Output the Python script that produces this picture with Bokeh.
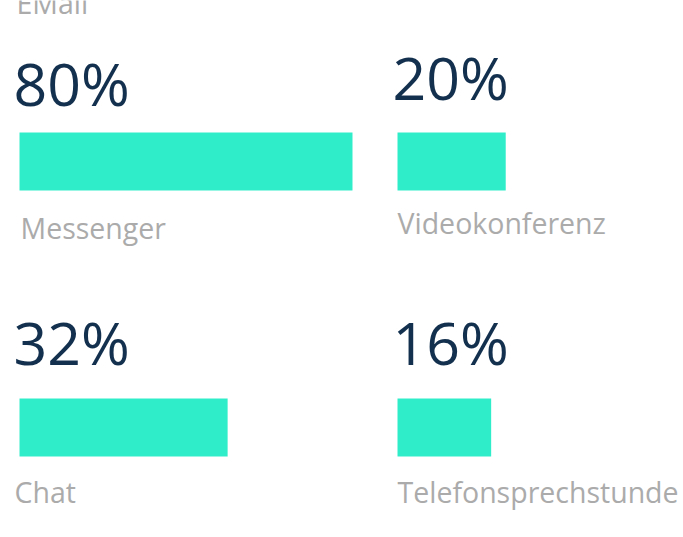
from bokeh.plotting import figure
from bokeh.models import Range1d, ColumnDataSource
from bokeh.core.properties import value
from bokeh.embed import file_html
from bokeh.resources import INLINE

# ---- data ----
categories = ["Messenger", "Videokonferenz", "Chat", "Telefonsprechstunde"]
percent_labels = ["80%", "20%", "32%", "16%"]
bar_values = [80, 26, 50, 22.5]          # bar lengths as drawn (relative units)
hidden_category = "EMail"                 # tile scrolled off above

# ---- layout (pixel space) ----
W, H = 683, 537
col_bar_x = [19, 397]
col_pct_x = [13, 392]
label_x = [20, 397, 14, 397]
pct_baseline = [108, 102, 367, 367]
bar_top = [132, 132, 398, 398]
bar_h = 58
label_baseline = [240, 235, 504, 504]
px_per_unit = 333 / 80
PCT_SIZE = 59
LAB_SIZE = 28.5
BASE_FIX = 0.43  # renderer places glyph baseline ~0.43em below y

BAR = "#30EDC9"
NAVY = "#13304E"
GREY = "#ABABAB"
FONT = "Open Sans"

p = figure(width=W, height=H, output_backend="svg", toolbar_location=None,
           x_range=Range1d(0, W), y_range=Range1d(H, 0),
           min_border=0, outline_line_color=None)
p.axis.visible = False
p.xgrid.visible = False
p.ygrid.visible = False
p.background_fill_color = "white"
p.border_fill_color = "white"

cols = [0, 1, 0, 1]
left = [col_bar_x[c] for c in cols]
right = [l + v * px_per_unit for l, v in zip(left, bar_values)]
top = bar_top
bottom = [t + bar_h for t in bar_top]

src = ColumnDataSource(dict(left=left, right=right, top=top, bottom=bottom,
                            pct=percent_labels, cat=categories,
                            px=[col_pct_x[c] for c in cols],
                            py=[b - BASE_FIX * PCT_SIZE for b in pct_baseline],
                            lx=label_x,
                            ly=[b - BASE_FIX * LAB_SIZE for b in label_baseline]))

p.quad(left="left", right="right", top="top", bottom="bottom", source=src,
       fill_color=BAR, line_color=None)
p.text(x="px", y="py", text="pct", source=src, text_font=value(FONT),
       text_font_size=f"{PCT_SIZE}px", text_color=NAVY, text_baseline="alphabetic",
       text_align="left")
p.text(x="lx", y="ly", text="cat", source=src, text_font=value(FONT),
       text_font_size=f"{LAB_SIZE}px", text_color=GREY, text_baseline="alphabetic",
       text_align="left")
p.text(x=[16], y=[15 - BASE_FIX * LAB_SIZE], text=[hidden_category], text_font=value(FONT),
       text_font_size=f"{LAB_SIZE}px", text_color=GREY, text_baseline="alphabetic",
       text_align="left")

open("out.html", "w").write(file_html(p, INLINE))
